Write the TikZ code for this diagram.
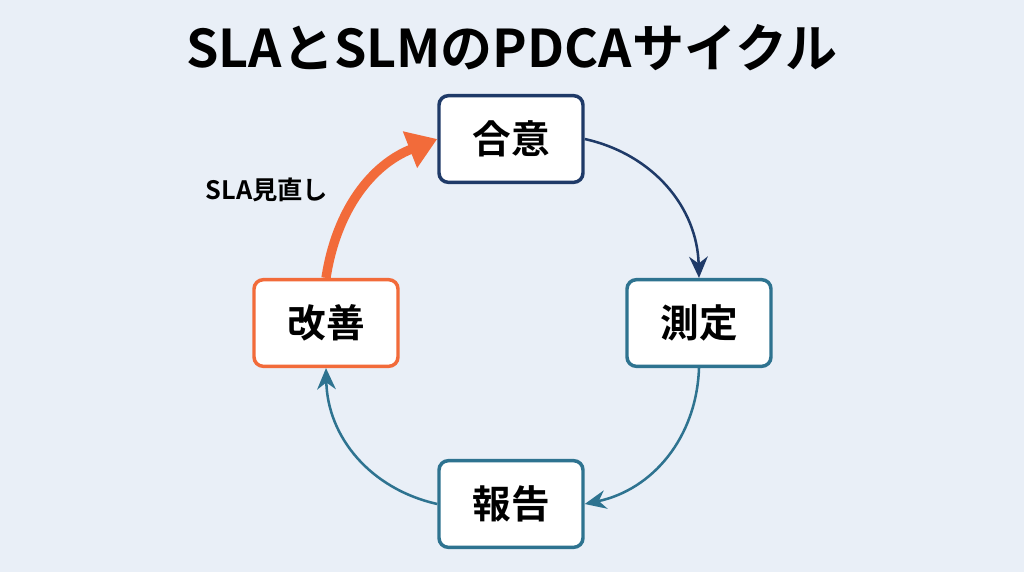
\documentclass[tikz,border=0pt]{standalone}
\usepackage{fontspec}
\setmainfont{Noto Sans CJK JP}[BoldFont={* Bold}]
\usetikzlibrary{arrows.meta}
\definecolor{bg}{HTML}{E9EFF7}
\definecolor{navy}{HTML}{1F3A68}
\definecolor{teal}{HTML}{2E7390}
\definecolor{org}{HTML}{F26B3A}
\begin{document}
\begin{tikzpicture}[x=0.75pt,y=-0.75pt,
  box/.style={draw=#1,line width=2.6pt,fill=white,rounded corners=7pt,minimum width=108pt,minimum height=65pt,font=\fontsize{29}{33}\selectfont\bfseries},
  arr/.style={draw=#1,line width=1.9pt,-{Stealth[length=16pt,width=14pt]}}]
\fill[bg] (0,0) rectangle (1024,572);
\node[font=\fontsize{39}{44}\selectfont\bfseries] (t) at (512,48) {SLAとSLMのPDCAサイクル};
\node[box=navy] (a) at (511,139) {合意};
\node[box=teal] (b) at (699,323) {測定};
\node[box=teal] (c) at (511,504) {報告};
\node[box=org] (d) at (326,323) {改善};
\draw[arr=navy] (a.east) to[bend left=38] (b.north);
\draw[arr=teal] (b.south) to[bend left=38] (c.east);
\draw[arr=teal] (c.west) to[bend left=38] (d.south);
\draw[draw=org,line width=7pt,-{Triangle[length=22pt,width=28pt]}] (d.north) to[bend left=30] (a.west);
\node[font=\fontsize{19}{22}\selectfont\bfseries] (l) at (267,190) {SLA見直し};
\end{tikzpicture}
\end{document}
